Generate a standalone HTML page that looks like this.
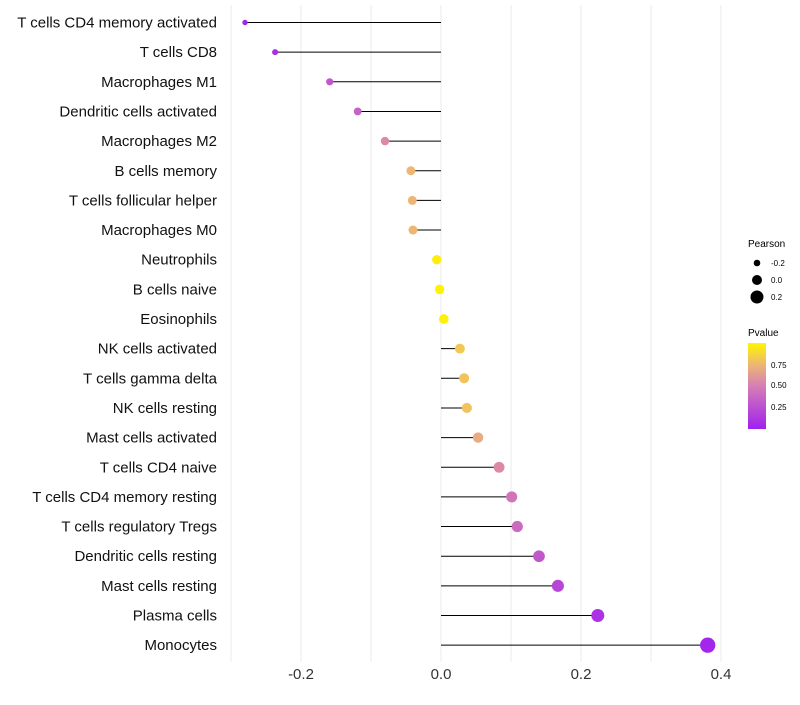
<!DOCTYPE html>
<html><head><meta charset="utf-8"><style>
body{margin:0;background:#fff;font-family:"Liberation Sans",sans-serif}
svg text{font-family:"Liberation Sans",sans-serif}
</style></head><body>
<svg id="chart" width="800" height="700">
<defs><linearGradient id="pg" x1="0" y1="1" x2="0" y2="0">
<stop offset="0" stop-color="#A020F0"/><stop offset="0.5" stop-color="#D67EB4"/>
<stop offset="0.75" stop-color="#EDB773"/><stop offset="1" stop-color="#FFF500"/></linearGradient></defs>
<g id="grid"></g><g id="marks"></g><g id="ylab"></g><g id="xlab"></g>
<g id="legend">
<text x="748" y="247" font-size="10">Pearson</text>
<circle cx="757" cy="263" r="3.3" fill="#000"/><text x="771" y="266" font-size="8">-0.2</text>
<circle cx="757" cy="280" r="5" fill="#000"/><text x="771" y="283" font-size="8">0.0</text>
<circle cx="757" cy="297" r="6.5" fill="#000"/><text x="771" y="300" font-size="8">0.2</text>
<text x="748" y="336" font-size="10">Pvalue</text>
<rect x="748" y="343" width="18" height="86" fill="url(#pg)"/>
<text x="771" y="368" font-size="8">0.75</text>
<text x="771" y="388" font-size="8">0.50</text>
<text x="771" y="410" font-size="8">0.25</text>
</g>
</svg>
<script>
const categories=["T cells CD4 memory activated","T cells CD8","Macrophages M1","Dendritic cells activated","Macrophages M2","B cells memory","T cells follicular helper","Macrophages M0","Neutrophils","B cells naive","Eosinophils","NK cells activated","T cells gamma delta","NK cells resting","Mast cells activated","T cells CD4 naive","T cells CD4 memory resting","T cells regulatory  Tregs","Dendritic cells resting","Mast cells resting","Plasma cells","Monocytes"];
const pearson=[-0.28,-0.237,-0.159,-0.119,-0.08,-0.043,-0.041,-0.04,-0.006,-0.002,0.004,0.027,0.033,0.037,0.053,0.083,0.101,0.109,0.14,0.167,0.224,0.381];
const pvalue=[0.03,0.08,0.3,0.35,0.55,0.75,0.75,0.75,0.97,0.99,0.98,0.82,0.8,0.8,0.7,0.55,0.45,0.4,0.3,0.2,0.1,0.03];
const xTicks=[-0.2,0,0.2,0.4];
const xTickLabels=["-0.2","0.0","0.2","0.4"];
const NS="http://www.w3.org/2000/svg";
function x(v){return 441+v*700;}
function y(i){return 22.5+i*29.65;}
function r(v){return 4.8+7.5*v;}
function lerp(a,b,t){return a.map((c,k)=>Math.round(c+(b[k]-c)*t));}
function color(p){const st=[[0,[160,32,240]],[0.5,[214,126,180]],[0.75,[237,183,115]],[1,[255,245,0]]];
for(let k=1;k<st.length;k++){if(p<=st[k][0]){const t=(p-st[k-1][0])/(st[k][0]-st[k-1][0]);const c=lerp(st[k-1][1],st[k][1],t);return `rgb(${c})`;}}return "rgb(255,245,0)";}
function mk(tag,attrs,parent){const e=document.createElementNS(NS,tag);for(const k in attrs)e.setAttribute(k,attrs[k]);parent.appendChild(e);return e;}
const grid=document.getElementById('grid'),marks=document.getElementById('marks'),ylab=document.getElementById('ylab'),xlab=document.getElementById('xlab');
for(let v=-0.3;v<=0.401;v+=0.1){const g=mk('line',{x1:x(v),x2:x(v),y1:5,y2:662,stroke:'#ebebeb','stroke-width':1},grid);

}
xTicks.forEach((t,i)=>{const e=mk('text',{x:x(t),y:679,'font-size':15,'text-anchor':'middle',fill:'#333'},xlab);e.textContent=xTickLabels[i];

});
categories.forEach((c,i)=>{
const t=mk('text',{x:217,y:y(i)+5,'font-size':15,'text-anchor':'end',fill:'#111'},ylab);t.textContent=c;


const ln=mk('line',{x1:x(0),x2:x(pearson[i]),y1:y(i),y2:y(i),stroke:'#000','stroke-width':1},marks);


const d=mk('circle',{cx:x(pearson[i]),cy:y(i),r:r(pearson[i]),fill:color(pvalue[i])},marks);


});
</script>
</body></html>
